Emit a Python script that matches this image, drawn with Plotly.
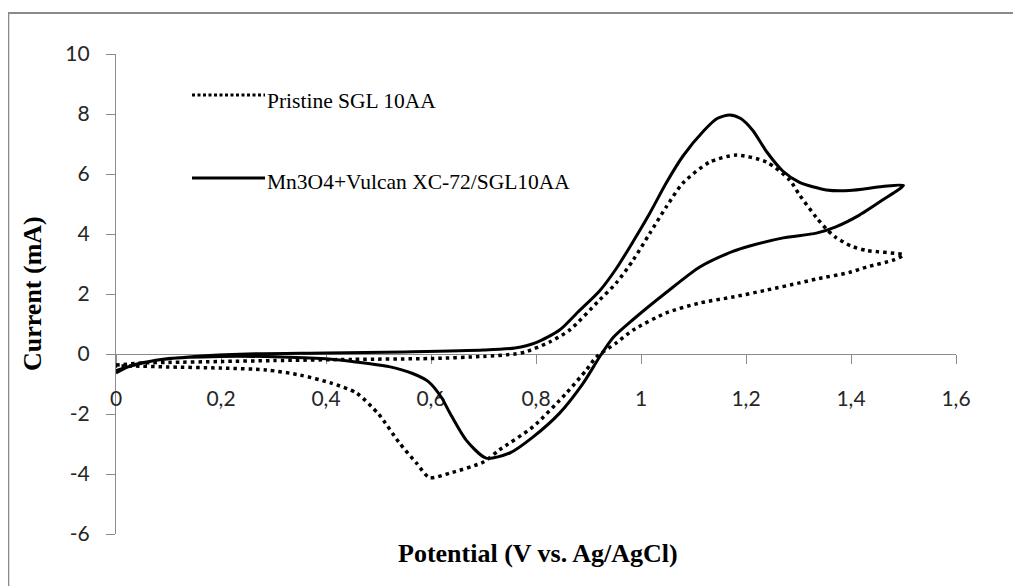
import plotly.graph_objects as go

# ---- data ----
pristine_v = [0, 0.05, 0.1, 0.2, 0.3, 0.45, 0.6, 0.7, 0.76, 0.78, 0.826, 0.864, 0.921, 0.953,
              0.985, 1.017, 1.048, 1.08, 1.131, 1.182, 1.239, 1.283, 1.302, 1.334, 1.353, 1.37,
              1.40, 1.43, 1.5,
              1.48, 1.43, 1.397, 1.334, 1.302, 1.239, 1.175, 1.112, 1.048, 0.985, 0.953, 0.915,
              0.896, 0.858, 0.794, 0.73, 0.7, 0.636, 0.597, 0.572, 0.54, 0.5, 0.458, 0.41, 0.35,
              0.286, 0.2, 0.096, 0.03, 0]
pristine_i = [-0.37, -0.3, -0.28, -0.25, -0.22, -0.18, -0.15, -0.08, 0.0, 0.07, 0.4, 0.8, 1.8, 2.37,
              3.13, 4.03, 4.9, 5.7, 6.4, 6.63, 6.4, 5.8, 5.3, 4.55, 4.17, 3.9,
              3.6, 3.45, 3.3,
              3.13, 2.9, 2.72, 2.5, 2.37, 2.13, 1.9, 1.7, 1.37, 0.8, 0.37, -0.1,
              -0.53, -1.3, -2.43, -3.2, -3.6, -3.97, -4.12, -3.63, -2.97, -2.0, -1.3, -0.97, -0.7,
              -0.53, -0.47, -0.43, -0.4, -0.4]

composite_v = [0, 0.03, 0.08, 0.15, 0.25, 0.4, 0.55, 0.7, 0.76, 0.8, 0.845, 0.88, 0.921, 0.953,
               0.985, 1.017, 1.048, 1.08, 1.12, 1.145, 1.169, 1.19, 1.213, 1.239, 1.27, 1.302,
               1.353, 1.397, 1.46, 1.5,
               1.46, 1.416, 1.37, 1.334, 1.271, 1.207, 1.175, 1.112, 1.048, 0.985, 0.947, 0.921,
               0.89, 0.845, 0.794, 0.75, 0.705, 0.667, 0.636, 0.62, 0.595, 0.565, 0.52, 0.45, 0.4,
               0.3, 0.2, 0.1, 0.05, 0]
composite_i = [-0.63, -0.38, -0.2, -0.08, 0.0, 0.03, 0.07, 0.13, 0.2, 0.38, 0.8, 1.4, 2.1, 2.85,
               3.75, 4.7, 5.7, 6.6, 7.45, 7.85, 7.97, 7.85, 7.45, 6.75, 6.1, 5.72,
               5.47, 5.45, 5.58, 5.62,
               5.13, 4.63, 4.23, 4.03, 3.87, 3.6, 3.42, 2.9, 2.05, 1.15, 0.55, -0.1,
               -0.97, -1.97, -2.77, -3.3, -3.47, -2.87, -1.97, -1.45, -0.92, -0.65, -0.42, -0.25, -0.16,
               -0.09, -0.08, -0.15, -0.3, -0.55]

x_ticks = [0, 0.2, 0.4, 0.6, 0.8, 1.0, 1.2, 1.4, 1.6]
x_tick_text = ["0", "0,2", "0,4", "0,6", "0,8", "1", "1,2", "1,4", "1,6"]
y_ticks = [-6, -4, -2, 0, 2, 4, 6, 8, 10]
y_tick_text = ["-6", "-4", "-2", "0", "2", "4", "6", "8", "10"]

series_names = ["Pristine SGL 10AA", "Mn3O4+Vulcan XC-72/SGL10AA"]

# ---- layout geometry (screen pixels; page body has an 8 px margin) ----
OFF = 8
W, H = 1021 - OFF, 586 - OFF
L, T = 116 - OFF, 54 - OFF
PW, PH = 840, 480
R, B = W - L - PW, H - T - PH


def px(xs):
    return (xs - OFF - L) / PW


def py(ys):
    return (T + PH - (ys - OFF)) / PH


fig = go.Figure()
fig.add_trace(go.Scatter(x=pristine_v, y=pristine_i, mode="lines", name=series_names[0],
                         line=dict(color="black", width=3.5, dash="3.5px,4px",
                                   shape="spline", smoothing=0.7),
                         showlegend=False))
fig.add_trace(go.Scatter(x=composite_v, y=composite_i, mode="lines", name=series_names[1],
                         line=dict(color="black", width=3, shape="spline", smoothing=0.7),
                         showlegend=False))

tick_font = dict(family="Lato", size=21, color="#262626")
axis_col = "#8c8c8c"

fig.update_layout(
    width=W, height=H,
    margin=dict(l=L, r=R, t=T, b=B),
    paper_bgcolor="white", plot_bgcolor="white",
    xaxis=dict(range=[0, 1.6], tickvals=x_ticks, ticktext=x_tick_text,
               showgrid=False, zeroline=False, showline=True, linecolor=axis_col, linewidth=1.3,
               ticks="outside", ticklen=9, tickcolor=axis_col, tickwidth=1.3,
               tickfont=tick_font, anchor="free", position=6 / 16,
               ticklabelstandoff=17, layer="below traces"),
    yaxis=dict(range=[-6, 10], tickvals=y_ticks, ticktext=y_tick_text,
               showgrid=False, zeroline=False, showline=True, linecolor=axis_col, linewidth=1.3,
               ticks="outside", ticklen=9, tickcolor=axis_col, tickwidth=1.3,
               tickfont=tick_font, ticklabelstandoff=12, layer="below traces"),
)

# outer frame of the chart area
fig.add_shape(type="rect", xref="paper", yref="paper",
              x0=px(8.3), x1=px(1040), y0=py(13), y1=py(620),
              line=dict(color="#8a8a8a", width=2))

# legend drawn by hand (line samples + labels)
legend_font = dict(family="Liberation Serif", size=21.5, color="black")
fig.add_shape(type="line", xref="paper", yref="paper",
              x0=px(192), x1=px(265), y0=py(95), y1=py(95),
              line=dict(color="black", width=3, dash="3px,2.5px"))
fig.add_shape(type="line", xref="paper", yref="paper",
              x0=px(192), x1=px(265), y0=py(178), y1=py(178),
              line=dict(color="black", width=3))
fig.add_annotation(text=series_names[0], xref="paper", yref="paper",
                   x=px(265), y=py(101), xanchor="left", yanchor="middle",
                   showarrow=False, font=legend_font)
fig.add_annotation(text=series_names[1], xref="paper", yref="paper",
                   x=px(265), y=py(182), xanchor="left", yanchor="middle",
                   showarrow=False, font=legend_font)

title_font = dict(family="Liberation Serif", size=26, color="black")
fig.add_annotation(text="<b>Potential (V vs. Ag/AgCl)</b>", xref="paper", yref="paper",
                   x=px(538), y=py(553), xanchor="center", yanchor="middle",
                   showarrow=False, font=title_font)
fig.add_annotation(text="<b>Current (mA)</b>", xref="paper", yref="paper",
                   x=px(32), y=py(294), xanchor="center", yanchor="middle",
                   textangle=-90, showarrow=False, font=title_font)

fig.write_html("out.html")
